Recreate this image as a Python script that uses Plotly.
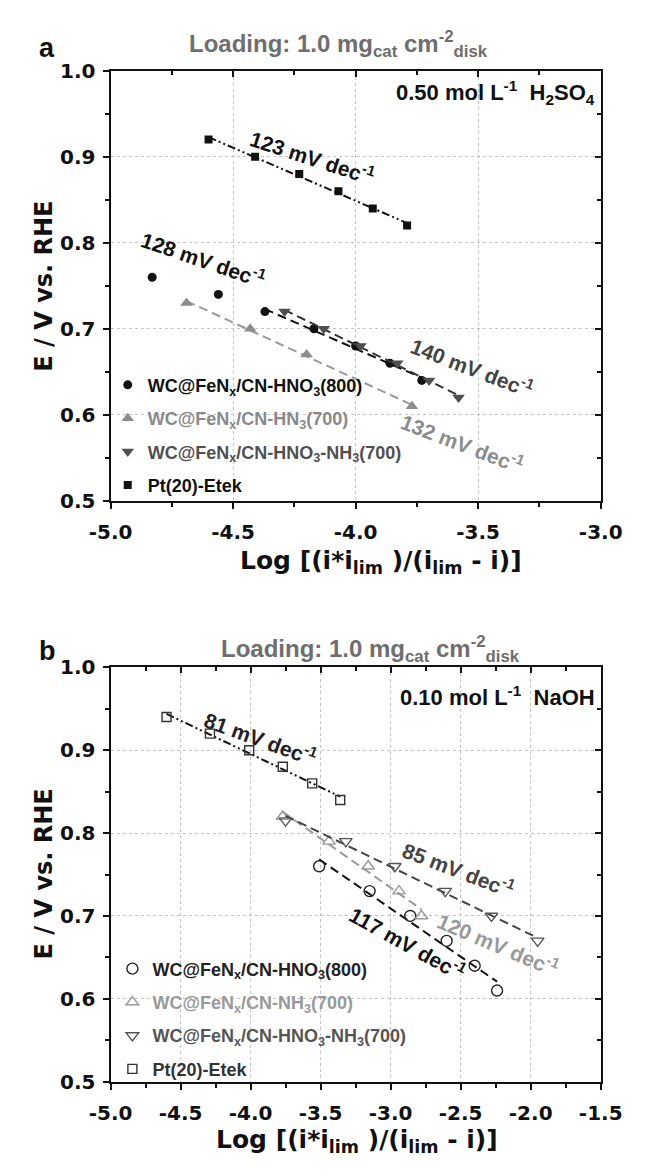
import numpy as np
import plotly.graph_objects as go

FONT_WIDE = "DejaVu Sans, Liberation Sans, Arial, sans-serif"
FONT = "Liberation Sans, Arial, Helvetica, sans-serif"
W, H = 646, 1176

# ---- panel a: 0.50 mol/L H2SO4 ----
a_hno3_x = [-4.83, -4.56, -4.37, -4.17, -4.00, -3.86, -3.73]
a_hno3_y = [0.76, 0.74, 0.72, 0.70, 0.68, 0.66, 0.64]
a_nh3_x = [-4.69, -4.43, -4.20, -3.77]
a_nh3_y = [0.73, 0.70, 0.67, 0.61]
a_mix_x = [-4.29, -4.13, -3.98, -3.83, -3.70, -3.58]
a_mix_y = [0.72, 0.70, 0.68, 0.66, 0.64, 0.62]
a_pt_x = [-4.60, -4.41, -4.23, -4.07, -3.93, -3.79]
a_pt_y = [0.92, 0.90, 0.88, 0.86, 0.84, 0.82]
a_slopes = ["128", "132", "140", "123"]
a_xticks = [-5.0, -4.5, -4.0, -3.5, -3.0]

# ---- panel b: 0.10 mol/L NaOH ----
b_hno3_x = [-3.51, -3.15, -2.86, -2.60, -2.40, -2.24]
b_hno3_y = [0.76, 0.73, 0.70, 0.67, 0.64, 0.61]
b_nh3_x = [-3.77, -3.44, -3.16, -2.94, -2.78]
b_nh3_y = [0.82, 0.79, 0.76, 0.73, 0.70]
b_mix_x = [-3.75, -3.32, -2.97, -2.61, -2.28, -1.95]
b_mix_y = [0.815, 0.79, 0.76, 0.73, 0.70, 0.67]
b_pt_x = [-4.60, -4.29, -4.01, -3.77, -3.56, -3.36]
b_pt_y = [0.94, 0.92, 0.90, 0.88, 0.86, 0.84]
b_slopes = ["117", "120", "85", "81"]
b_xticks = [-5.0, -4.5, -4.0, -3.5, -3.0, -2.5, -2.0, -1.5]

yticks = [0.5, 0.6, 0.7, 0.8, 0.9, 1.0]

C_BLACK = "#111111"
C_GRAY = "#8c8c8c"
C_DARK = "#4f4f4f"
DASH_DDOT = "8px,3px,2px,3px,2px,3px"
DASH_LONG = "9px,5px"

NAME_HNO3 = "WC@FeN<sub>x</sub>/CN-HNO<sub>3</sub>(800)"
NAME_HN3 = "WC@FeN<sub>x</sub>/CN-HN<sub>3</sub>(700)"
NAME_NH3 = "WC@FeN<sub>x</sub>/CN-NH<sub>3</sub>(700)"
NAME_MIX = "WC@FeN<sub>x</sub>/CN-HNO<sub>3</sub>-NH<sub>3</sub>(700)"
NAME_PT = "Pt(20)-Etek"

# plot-area geometry (pixels)
X0, X1 = 95, 621
A_TOP, A_BOT = 60, 499
B_TOP, B_BOT = 669, 1092


def fx(p):
    return p / W


def fy(p):
    return 1 - p / H


def fit(x, y, start=0):
    xs = np.array(x[start:])
    ys = np.array(y[start:])
    m, b = np.polyfit(xs, ys, 1)
    xe = np.array([xs.min(), xs.max()])
    return xe, m * xe + b


def tick_text(vals):
    # plain hyphen-minus labels
    return [f"{v:.1f}" for v in vals]


fig = go.Figure()


def add_series(x, y, xa, ya, name, symbol, color, size, dash, lcolor, legend,
               fit_start=0, open_marker=False):
    xe, ye = fit(x, y, fit_start)
    fig.add_trace(go.Scatter(x=xe, y=ye, mode="lines", xaxis=xa, yaxis=ya,
                             line=dict(color=lcolor, width=2, dash=dash),
                             showlegend=False, hoverinfo="skip"))
    if open_marker:
        marker = dict(symbol=symbol + "-open", size=size, color=color,
                      line=dict(color=color, width=1.4))
    else:
        marker = dict(symbol=symbol, size=size, color=color,
                      line=dict(width=0))
    fig.add_trace(go.Scatter(x=x, y=y, mode="markers", xaxis=xa, yaxis=ya,
                             name=name, marker=marker, legend=legend,
                             legendgroup=legend + name))


def span(text, color):
    return f'<span style="color:{color}">{text}</span>'


# panel a traces
add_series(a_hno3_x, a_hno3_y, "x", "y", span(NAME_HNO3, "#111"), "circle",
           C_BLACK, 9, DASH_LONG, C_BLACK, "legend", fit_start=2)
add_series(a_nh3_x, a_nh3_y, "x", "y", span(NAME_HN3, "#8a8a8a"), "triangle-up",
           C_GRAY, 11, DASH_LONG, "#9a9a9a", "legend")
add_series(a_mix_x, a_mix_y, "x", "y", span(NAME_MIX, "#505050"), "triangle-down",
           C_DARK, 11, DASH_LONG, "#333333", "legend")
add_series(a_pt_x, a_pt_y, "x", "y", span(NAME_PT, "#111"), "square",
           C_BLACK, 8, DASH_DDOT, C_BLACK, "legend")

# panel b traces
add_series(b_hno3_x, b_hno3_y, "x2", "y2", span(NAME_HNO3, "#222"), "circle",
           "#222222", 11, DASH_LONG, C_BLACK, "legend2", open_marker=True)
add_series(b_nh3_x, b_nh3_y, "x2", "y2", span(NAME_NH3, "#999"), "triangle-up",
           "#999999", 11, DASH_LONG, "#9a9a9a", "legend2", open_marker=True)
add_series(b_mix_x, b_mix_y, "x2", "y2", span(NAME_MIX, "#555"), "triangle-down",
           "#555555", 11, DASH_LONG, "#444444", "legend2", open_marker=True)
add_series(b_pt_x, b_pt_y, "x2", "y2", span(NAME_PT, "#333"), "square",
           "#333333", 9, DASH_DDOT, C_BLACK, "legend2", open_marker=True)

# empty traces so the mirrored frame axes are drawn
fig.add_trace(go.Scatter(x=[], y=[], xaxis="x3", yaxis="y3", showlegend=False))
fig.add_trace(go.Scatter(x=[], y=[], xaxis="x4", yaxis="y4", showlegend=False))

tick_font = dict(family=FONT_WIDE, size=20, color="#111", weight="bold")
GRID = dict(showgrid=True, gridcolor="#c4c4c4", griddash="dot", gridwidth=1)


def main_x(rng, ticks):
    return dict(range=rng, domain=[fx(X0), fx(X1)], tickmode="array",
                tickvals=ticks, ticktext=tick_text(ticks),
                ticks="outside", ticklen=6, tickwidth=1.5, tickcolor="#111",
                minor=dict(dtick=0.25, ticks="outside", ticklen=4, tickwidth=1.5,
                           tickcolor="#111", showgrid=False),
                showline=True, linecolor="#111", linewidth=2, mirror=False,
                zeroline=False, tickfont=tick_font, ticklabelstandoff=6,
                fixedrange=True, **GRID)


def main_y(top, bot):
    return dict(range=[0.5, 1.0], domain=[fy(bot), fy(top)], tickmode="array",
                tickvals=yticks, ticktext=tick_text(yticks),
                ticks="outside", ticklen=6, tickwidth=1.5, tickcolor="#111",
                minor=dict(dtick=0.05, ticks="outside", ticklen=4, tickwidth=1.5,
                           tickcolor="#111", showgrid=False),
                showline=True, linecolor="#111", linewidth=2, mirror=False,
                zeroline=False, tickfont=tick_font, ticklabelstandoff=3,
                fixedrange=True, **GRID)


def frame_x(rng, over, anchor):
    return dict(range=rng, overlaying=over, anchor=anchor, side="top",
                dtick=0.5, ticks="inside", ticklen=6, tickwidth=1.5,
                tickcolor="#111",
                minor=dict(dtick=0.25, ticks="inside", ticklen=4, tickwidth=1.5,
                           tickcolor="#111"),
                showline=True, linecolor="#111", linewidth=2,
                showticklabels=False, showgrid=False, zeroline=False,
                fixedrange=True)


def frame_y(over, anchor):
    return dict(range=[0.5, 1.0], overlaying=over, anchor=anchor, side="right",
                dtick=0.1, ticks="inside", ticklen=6, tickwidth=1.5,
                tickcolor="#111",
                minor=dict(dtick=0.05, ticks="inside", ticklen=4, tickwidth=1.5,
                           tickcolor="#111"),
                showline=True, linecolor="#111", linewidth=2,
                showticklabels=False, showgrid=False, zeroline=False,
                fixedrange=True)


A_RANGE = [-5.0, -3.0]
B_RANGE = [-5.0, -1.5]

legend_common = dict(xanchor="left", yanchor="top", bgcolor="rgba(0,0,0,0)",
                     font=dict(family=FONT, size=18, color="#111", weight="bold"),
                     itemwidth=30, tracegroupgap=7, itemclick=False,
                     itemdoubleclick=False)

fig.update_layout(
    width=W, height=H, margin=dict(l=0, r=0, t=0, b=0),
    paper_bgcolor="white", plot_bgcolor="white",
    font=dict(family=FONT, color="#111"),
    xaxis=dict(main_x(A_RANGE, a_xticks), anchor="y"),
    yaxis=dict(main_y(A_TOP, A_BOT), anchor="x"),
    xaxis2=dict(main_x(B_RANGE, b_xticks), anchor="y2"),
    yaxis2=dict(main_y(B_TOP, B_BOT), anchor="x2"),
    xaxis3=frame_x(A_RANGE, "x", "y"),
    yaxis3=frame_y("y", "x"),
    xaxis4=frame_x(B_RANGE, "x2", "y2"),
    yaxis4=frame_y("y2", "x2"),
    legend=dict(legend_common, x=fx(92), y=fy(362)),
    legend2=dict(legend_common, x=fx(97), y=fy(958)),
    showlegend=True,
)

annotations = []


def note(text, x, y, size, color="#111", angle=0, xanchor="center",
         family=FONT):
    annotations.append(dict(
        text=text, x=fx(x), y=fy(y), xref="paper", yref="paper",
        xanchor=xanchor, yanchor="middle", showarrow=False, textangle=angle,
        font=dict(family=family, size=size, color=color, weight="bold")))


LOADING = "Loading: 1.0 mg<sub>cat</sub> cm<sup>-2</sup><sub>disk</sub>"
XTITLE = "Log [(i*i<sub>lim</sub> )/(i<sub>lim</sub> - i)]"
YTITLE = "E / V vs. RHE"

# panel a labels
note("a", 27, 37, 27)
note(LOADING, 340, 33, 24, color="#6e6e6e")
note("0.50 mol L<sup>-1</sup>  H<sub>2</sub>SO<sub>4</sub>", 617, 82, 22,
     xanchor="right")
note(YTITLE, 24, 280, 24, angle=-90, family=FONT_WIDE)
note(XTITLE, 385, 561, 25, family=FONT_WIDE)
note(f"{a_slopes[3]} mV dec<sup>-1</sup>", 312, 148, 21, angle=18)
note(f"{a_slopes[0]} mV dec<sup>-1</sup>", 195, 252, 21, angle=19)
note(f"{a_slopes[2]} mV dec<sup>-1</sup>", 483, 362, 21, color="#444", angle=21)
note(f"{a_slopes[1]} mV dec<sup>-1</sup>", 473, 440, 21, color="#8c8c8c", angle=21)

# panel b labels
note("b", 27, 652, 27)
note(LOADING, 374, 650, 24, color="#6e6e6e")
note("0.10 mol L<sup>-1</sup>  NaOH", 617, 698, 22, xanchor="right")
note(YTITLE, 24, 880, 24, angle=-90, family=FONT_WIDE)
note(XTITLE, 359, 1153, 25, family=FONT_WIDE)
note(f"{b_slopes[3]} mV dec<sup>-1</sup>", 256, 741, 21, color="#222", angle=20)
note(f"{b_slopes[2]} mV dec<sup>-1</sup>", 468, 875, 21, color="#444", angle=21)
note(f"{b_slopes[1]} mV dec<sup>-1</sup>", 511, 951, 21, color="#9a9a9a", angle=23)
note(f"{b_slopes[0]} mV dec<sup>-1</sup>", 414, 950, 21, angle=29)

fig.update_layout(annotations=annotations)

fig.write_html("out.html", config={"displayModeBar": False})
